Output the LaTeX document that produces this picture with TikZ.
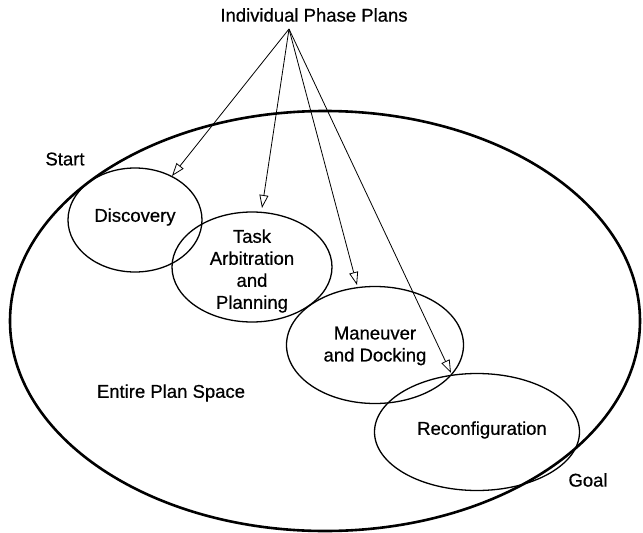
\documentclass[tikz,border=0pt]{standalone}
\usepackage{fontspec}
\setmainfont{Liberation Sans}
\newfontfamily\lblfont{Liberation Sans}[FakeBold=0.6]
\usetikzlibrary{arrows.meta,shapes.geometric}
\begin{document}
\begin{tikzpicture}[x=1pt,y=-1pt,
  lbl/.style={font=\lblfont\fontsize{18.5}{22}\selectfont, inner sep=0pt, align=center},
  phase/.style={draw, line width=1.3pt, ellipse, inner sep=0pt},
  plan/.style={-{Triangle[open,length=13pt,width=9pt]}, line width=0.8pt}]
\useasboundingbox (0,0) rectangle (643,533);
\draw[line width=2.6pt] (325,321) ellipse [x radius=315, y radius=210];
\node[phase, minimum width=134pt, minimum height=104pt] (disc) at (135,220) {};
\node[lbl] at (135,217) {Discovery};
\node[phase, minimum width=160pt, minimum height=110pt] (task) at (252,267) {};
\node[lbl] at (252,271) {Task\\Arbitration\\and\\Planning};
\node[phase, minimum width=177pt, minimum height=117pt] (man) at (375,345) {};
\node[lbl] at (375,346) {Maneuver\\and Docking};
\node[phase, minimum width=205pt, minimum height=117pt] (rec) at (477,432) {};
\node[lbl] at (482,430) {Reconfiguration};
\node[lbl] (ipp) at (314,15) {Individual Phase Plans};
\coordinate (apex) at (289,29);
\node[lbl] (start) at (65,159) {Start};
\node[lbl] (eps) at (171,393) {Entire Plan Space};
\node[lbl] (goal) at (588,480) {Goal};
\coordinate (t1) at (172,176);
\coordinate (t2) at (262,208);
\coordinate (t3) at (357,285);
\coordinate (t4) at (451,373);
\draw[plan] (apex) -- (t1);
\draw[plan] (apex) -- (t2);
\draw[plan] (apex) -- (t3);
\draw[plan] (apex) -- (t4);
\end{tikzpicture}
\end{document}
